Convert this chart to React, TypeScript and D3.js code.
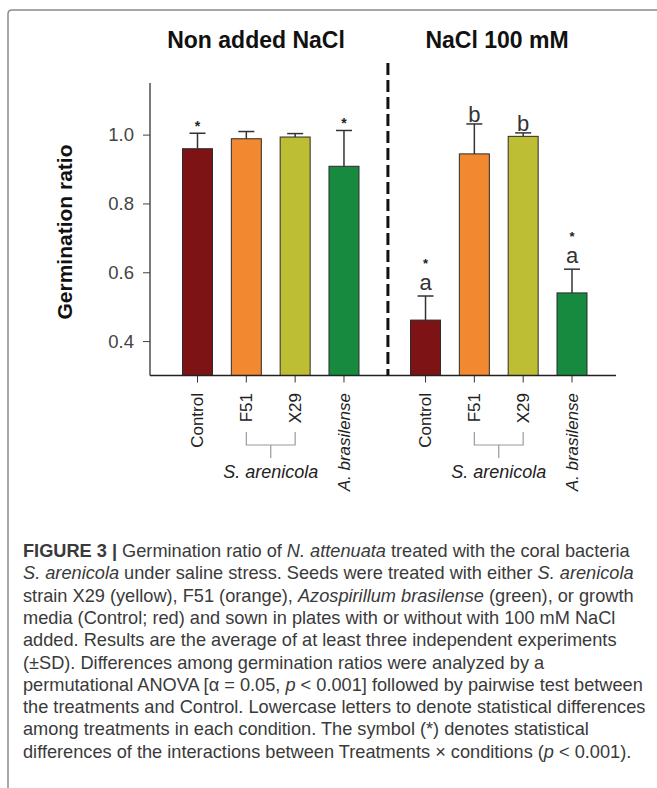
import { useEffect, useRef } from "react";
import * as d3 from "d3";

// groups and treatments
const conditions = ["Non added NaCl", "NaCl 100 mM"];
const treatments = ["Control", "F51", "X29", "A. brasilense"];
const treatmentColors = ["#7d1315", "#f28830", "#bdbe33", "#178a40"];

// germination ratio means and SD
const meanNoSalt = [0.959, 0.988, 0.993, 0.908];
const sdNoSalt = [0.045, 0.021, 0.01, 0.104];
const meanSalt = [0.461, 0.944, 0.995, 0.54];
const sdSalt = [0.07, 0.087, 0.01, 0.069];

// significance marks above each bar
const letterNoSalt = ["", "", "", ""];
const starNoSalt = [true, false, false, true];
const letterSalt = ["a", "b", "b", "a"];
const starSalt = [true, false, false, true];

const yTicks = [0.4, 0.6, 0.8, 1.0];

type Seg = { t: string; i?: boolean; b?: boolean };
const captionLines: Seg[][] = [
  [
    { t: "FIGURE 3 | ", b: true },
    { t: "Germination ratio of " },
    { t: "N. attenuata", i: true },
    { t: " treated with the coral bacteria" },
  ],
  [{ t: "S. arenicola", i: true }, { t: " under saline stress. Seeds were treated with either " }, { t: "S. arenicola", i: true }],
  [{ t: "strain X29 (yellow), F51 (orange), " }, { t: "Azospirillum brasilense", i: true }, { t: " (green), or growth" }],
  [{ t: "media (Control; red) and sown in plates with or without with 100 mM NaCl" }],
  [{ t: "added. Results are the average of at least three independent experiments" }],
  [{ t: "(\u00B1SD). Differences among germination ratios were analyzed by a" }],
  [
    { t: "permutational ANOVA [\u03B1 = 0.05, " },
    { t: "p", i: true },
    { t: " < 0.001] followed by pairwise test between" },
  ],
  [{ t: "the treatments and Control. Lowercase letters to denote statistical differences" }],
  [{ t: "among treatments in each condition. The symbol (*) denotes statistical" }],
  [
    { t: "differences of the interactions between Treatments \u00D7 conditions (" },
    { t: "p", i: true },
    { t: " < 0.001)." },
  ],
];

export default function App() {
  const ref = useRef<SVGSVGElement>(null);

  useEffect(() => {
    if (!ref.current) return;
    const svg = d3.select(ref.current);
    svg.selectAll("*").remove();

    const font = "'Liberation Sans', Arial, sans-serif";
    const axisX = 150;

    // figure frame (top and left edges)
    svg
      .append("path")
      .attr("d", "M8,788 L8,14 Q8,10 12,10 L657,10")
      .attr("fill", "none")
      .attr("stroke", "#8a8a8a")
      .attr("stroke-width", 1.5);

    const y = d3.scaleLinear().domain([0.3, 1.15]).range([375.5, 83]);
    // slot positions: second group shifted by a wider gap
    const groupGap = 4.67;
    const x = d3.scaleLinear().domain([0, 7.67]).range([197.5, 572]);
    const barW = 30;
    const baseY = y(0.3);

    const rows = [
      { means: meanNoSalt, sds: sdNoSalt, letters: letterNoSalt, stars: starNoSalt, off: 0 },
      { means: meanSalt, sds: sdSalt, letters: letterSalt, stars: starSalt, off: groupGap },
    ];

    const g = svg.append("g");

    rows.forEach((row, gi) => {
      const data = treatments.map((t, i) => ({
        name: t,
        pos: row.off + i,
        mean: row.means[i],
        sd: row.sds[i],
        color: treatmentColors[i],
        letter: row.letters[i],
        star: row.stars[i],
      }));

      g.selectAll(`.bar-${gi}`)
        .data(data)
        .enter()
        .append("rect")
        .attr("x", (d) => x(d.pos) - barW / 2)
        .attr("y", (d) => y(d.mean))
        .attr("width", barW)
        .attr("height", (d) => baseY - y(d.mean))
        .attr("fill", (d) => d.color)
        .attr("stroke", "#2b2b2b")
        .attr("stroke-width", 1);

      data.forEach((d) => {
        const top = y(d.mean + d.sd);
        const cx = x(d.pos);
        g.append("line")
          .attr("x1", cx)
          .attr("x2", cx)
          .attr("y1", y(d.mean))
          .attr("y2", top)
          .attr("stroke", "#333")
          .attr("stroke-width", 1.5);
        g.append("line")
          .attr("x1", cx - 8)
          .attr("x2", cx + 8)
          .attr("y1", top)
          .attr("y2", top)
          .attr("stroke", "#333")
          .attr("stroke-width", 1.5);

        // significance marks
        let starBase = top - 2;
        if (d.letter) {
          const letterBase = d.letter === "b" ? top - 2 : top - 6;
          g.append("text")
            .attr("x", cx)
            .attr("y", letterBase)
            .attr("text-anchor", "middle")
            .attr("font-family", font)
            .attr("font-size", 22)
            .attr("fill", "#333")
            .text(d.letter);
          starBase = letterBase - 22.5;
        }
        if (d.star) {
          g.append("text")
            .attr("x", cx)
            .attr("y", starBase)
            .attr("text-anchor", "middle")
            .attr("font-family", font)
            .attr("font-size", d.letter ? 13 : 14)
            .attr("font-weight", "bold")
            .attr("fill", "#222")
            .text("*");
        }

        // category tick and label
        g.append("line")
          .attr("x1", cx)
          .attr("x2", cx)
          .attr("y1", baseY)
          .attr("y2", baseY + 7)
          .attr("stroke", "#333")
          .attr("stroke-width", 1);
        g.append("text")
          .attr("transform", `translate(${cx},393) rotate(-90)`)
          .attr("text-anchor", "end")
          .attr("dy", "0.35em")
          .attr("font-family", font)
          .attr("font-size", 17)
          .attr("font-style", d.name === "A. brasilense" ? "italic" : "normal")
          .attr("fill", "#222")
          .text(d.name);
      });

      // bracket joining the two S. arenicola strains
      const x1 = x(row.off + 1);
      const x2 = x(row.off + 2);
      const mid = (x1 + x2) / 2;
      g.append("path")
        .attr("d", `M${x1},432 V445 H${x2} V432 M${mid},445 V458`)
        .attr("fill", "none")
        .attr("stroke", "#9a9a9a")
        .attr("stroke-width", 1.2);
      g.append("text")
        .attr("x", mid)
        .attr("y", 478)
        .attr("text-anchor", "middle")
        .attr("font-family", font)
        .attr("font-size", 18)
        .attr("font-style", "italic")
        .attr("fill", "#222")
        .text("S. arenicola");

      // condition title
      g.append("text")
        .attr("x", gi === 0 ? 256 : 497)
        .attr("y", 48)
        .attr("text-anchor", "middle")
        .attr("font-family", font)
        .attr("font-size", 23)
        .attr("font-weight", "bold")
        .attr("fill", "#111")
        .text(conditions[gi]);
    });

    // axes
    const yAxis = svg
      .append("g")
      .attr("transform", `translate(${axisX},0)`)
      .call(d3.axisLeft(y).tickValues(yTicks).tickSize(7).tickPadding(9).tickFormat(d3.format(".1f")));
    yAxis.select(".domain").attr("d", `M0,${y(1.15)}V${baseY}`).attr("stroke", "#222").attr("stroke-width", 1.2);
    yAxis.selectAll(".tick line").attr("stroke", "#444");
    yAxis
      .selectAll(".tick text")
      .attr("font-family", font)
      .attr("font-size", 18.5)
      .attr("fill", "#444");

    svg
      .append("line")
      .attr("x1", axisX)
      .attr("x2", 616)
      .attr("y1", baseY)
      .attr("y2", baseY)
      .attr("stroke", "#222")
      .attr("stroke-width", 1.5);

    // dashed separator between conditions
    svg
      .append("line")
      .attr("x1", x(3.9))
      .attr("x2", x(3.9))
      .attr("y1", 63)
      .attr("y2", baseY)
      .attr("stroke", "#111")
      .attr("stroke-width", 3)
      .attr("stroke-dasharray", "12,5");

    svg
      .append("text")
      .attr("transform", `translate(72,${232}) rotate(-90)`)
      .attr("text-anchor", "middle")
      .attr("font-family", font)
      .attr("font-size", 21)
      .attr("font-weight", "bold")
      .attr("fill", "#111")
      .text("Germination ratio");

    // caption
    const cap = svg.append("g");
    captionLines.forEach((line, li) => {
      const t = cap
        .append("text")
        .attr("x", 23)
        .attr("y", 557 + li * 22.3)
        .attr("font-family", font)
        .attr("font-size", 18.2)
        .attr("fill", "#3a3a3a");
      line.forEach((s) => {
        t.append("tspan")
          .attr("font-style", s.i ? "italic" : "normal")
          .attr("font-weight", s.b ? "bold" : "normal")
          .text(s.t);
      });
    });
  }, []);

  return (
    <div style={{ position: "absolute", left: 0, top: 0 }}>
      <svg ref={ref} width={657} height={788} style={{ display: "block", background: "#fff" }} />
    </div>
  );
}
